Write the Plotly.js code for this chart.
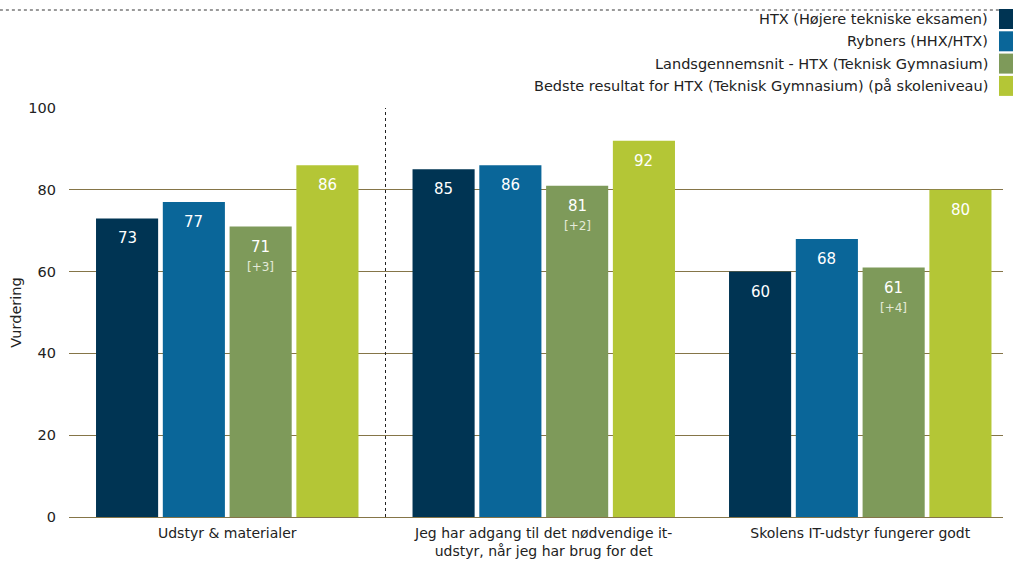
<!DOCTYPE html>
<html><head><meta charset="utf-8">
<script src="https://cdn.plot.ly/plotly-3.0.1.min.js"></script>
<style>body{margin:0;background:#fff}#c{width:1013px;height:563px}</style>
</head><body><div id="c"></div>
<script>
const categories = ["Udstyr & materialer", "Jeg har adgang til det nødvendige it-<br>udstyr, når jeg har brug for det", "Skolens IT-udstyr fungerer godt"];
const seriesNames = ["HTX (Højere tekniske eksamen)", "Rybners (HHX/HTX)", "Landsgennemsnit - HTX (Teknisk Gymnasium)", "Bedste resultat for HTX (Teknisk Gymnasium) (på skoleniveau)"];
const htx = [73, 85, 60];
const rybners = [77, 86, 68];
const lands = [71, 81, 61];
const landsDiff = ["+3", "+2", "+4"];
const bedste = [86, 92, 80];
const colors = ["#003453", "#0A6699", "#7E9A5A", "#B4C636"];
const yTicks = [0, 20, 40, 60, 80, 100];

const FONT = "Verdana, 'DejaVu Sans', sans-serif";
const BARGAP = 0.156;
const allVals = [htx, rybners, lands, bedste];
const traces = allVals.map((vals, i) => ({
  type: 'bar', x: categories, y: vals, name: seriesNames[i],
  marker: {color: colors[i]},
  hoverinfo: 'none', showlegend: false
}));

const shapes = [
  {type: 'line', xref: 'paper', yref: 'paper', x0: -0.074, x1: 1.011, y0: 1.2396, y1: 1.2396, line: {color: '#9a9a9a', width: 2, dash: 'dot'}},
  {type: 'line', xref: 'x', yref: 'paper', x0: 0.5, x1: 0.5, y0: 0, y1: 1, line: {color: '#222222', width: 1, dash: 'dot'}}
];
const annotations = [];
seriesNames.forEach((n, i) => {
  const yc = 19 + i * 22.3;
  shapes.push({type: 'rect', xref: 'paper', yref: 'paper', x0: 930/934, x1: 944/934, y0: (517 - yc + 10) / 409, y1: (517 - yc - 10) / 409, fillcolor: colors[i], line: {width: 0}});
  annotations.push({xref: 'paper', yref: 'paper', x: 921/934, y: (517 - yc) / 409, xanchor: 'right', yanchor: 'middle', text: n, showarrow: false, font: {size: 14.5, color: '#222222', family: FONT}});
});
// value labels inside bars, positioned from the data
allVals.forEach((vals, i) => {
  vals.forEach((v, j) => {
    const xPos = j + (i - 1.5) * (1 - BARGAP) / 4;
    annotations.push({xref: 'x', yref: 'y', x: xPos, y: v, yanchor: 'middle', xanchor: 'center', yshift: -20, text: String(v), showarrow: false, font: {size: 15, color: '#ffffff', family: FONT}});
    if (i === 2) {
      annotations.push({xref: 'x', yref: 'y', x: xPos, y: v, yanchor: 'middle', xanchor: 'center', yshift: -40, text: '[' + landsDiff[j] + ']', showarrow: false, font: {size: 12, color: '#e4ead8', family: FONT}});
    }
  });
});

const layout = {
  width: 1013, height: 563,
  margin: {l: 69, r: 10, t: 108, b: 46},
  paper_bgcolor: '#ffffff', plot_bgcolor: '#ffffff',
  font: {family: FONT, size: 14, color: '#222222'},
  barmode: 'group', bargap: BARGAP, bargroupgap: 0.07,
  showlegend: false,
  xaxis: {type: 'category', range: [-0.5, 2.451], showgrid: false, showline: false, ticks: '', ticklabelstandoff: 6, tickfont: {size: 14}, fixedrange: true},
  yaxis: {range: [0, 100], tickvals: yTicks, ticktext: yTicks.map(String), showgrid: true, gridcolor: '#857548', gridwidth: 1, zeroline: true, zerolinecolor: '#857548', zerolinewidth: 1, showline: false, ticks: '', ticklen: 0, ticklabelstandoff: 12, tickfont: {size: 14.5}, title: {text: 'Vurdering', font: {size: 14.5}, standoff: 3}, fixedrange: true},
  shapes: shapes, annotations: annotations
};
Plotly.newPlot('c', traces, layout, {displayModeBar: false, staticPlot: true});
</script></body></html>
